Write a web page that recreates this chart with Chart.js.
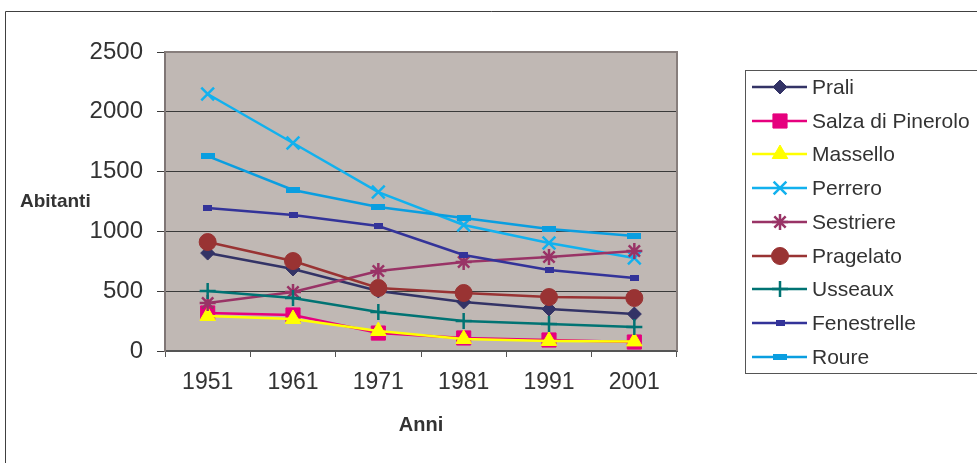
<!DOCTYPE html>
<html>
<head>
<meta charset="utf-8">
<script src="https://cdn.jsdelivr.net/npm/chart.js@4/dist/chart.umd.min.js"></script>
<style>
  html, body { margin: 0; padding: 0; background: #fff; }
  #wrap { width: 977px; height: 463px; position: relative; }
</style>
</head>
<body>
<div id="wrap"><canvas id="chart"></canvas></div>
<script>
const years = ["1951", "1961", "1971", "1981", "1991", "2001"];
const yTicks = [0, 500, 1000, 1500, 2000, 2500];

const prali       = [819, 686, 502, 410, 351, 309];
const salza       = [318, 301, 150, 109, 92, 75];
const massello    = [293, 268, 167, 100, 84, 80];
const perrero     = [2149, 1739, 1329, 1054, 903, 778];
const sestriere   = [401, 493, 669, 744, 786, 836];
const pragelato   = [911, 752, 527, 485, 451, 443];
const usseaux     = [502, 443, 326, 251, 226, 201];
const fenestrelle = [1196, 1137, 1045, 803, 677, 610];
const roure       = [1630, 1346, 1204, 1112, 1020, 962];

const FONT = "'Liberation Sans', Arial, sans-serif";
const PLOT_BG = "#c0b8b4";
const TEXT = "#333333";

// flat dash markers for Fenestrelle / Roure
function dash(w, h, color) {
  const c = document.createElement("canvas");
  c.width = w; c.height = h;
  const g = c.getContext("2d");
  g.fillStyle = color;
  g.fillRect(0, 0, w, h);
  return c;
}

function series(label, data, color, style, radius, bw) {
  return {
    label, data,
    borderColor: color,
    backgroundColor: color,
    borderWidth: 2.5,
    pointStyle: style,
    pointRadius: radius,
    pointHoverRadius: radius,
    pointBorderWidth: bw,
    pointBackgroundColor: color,
    pointBorderColor: color,
    tension: 0,
    fill: false,
  };
}

const datasets = [
  series("Prali", prali, "#333366", "rectRot", 7, 1),
  series("Salza di Pinerolo", salza, "#e6007e", "rect", 10, 1),
  series("Massello", massello, "#ffff00", "triangle", 9, 1),
  series("Perrero", perrero, "#12b1ee", "crossRot", 9, 2.5),
  series("Sestriere", sestriere, "#993366", "star", 8, 2.5),
  series("Pragelato", pragelato, "#993333", "circle", 8.5, 1),
  series("Usseaux", usseaux, "#007373", "cross", 8, 2.5),
  series("Fenestrelle", fenestrelle, "#333399", dash(9, 6, "#333399"), 5, 0),
  series("Roure", roure, "#0a9ee0", dash(14, 6, "#0a9ee0"), 7, 0),
];
// later series on top, like the original
datasets.forEach((d, i) => { d.order = datasets.length - i; });

function marker(ctx, d, x, y) {
  ctx.fillStyle = d.pointBackgroundColor;
  ctx.strokeStyle = d.pointBorderColor;
  ctx.lineWidth = d.pointBorderWidth;
  if (typeof d.pointStyle === "object") {
    const s = d.pointStyle;
    ctx.drawImage(s, x - s.width / 2, y - s.height / 2);
  } else if (Chart.helpers && Chart.helpers.drawPoint) {
    Chart.helpers.drawPoint(ctx, {
      pointStyle: d.pointStyle, radius: d.pointRadius,
      rotation: 0, borderWidth: d.pointBorderWidth,
    }, x, y);
  }
}

const decor = {
  id: "decor",
  beforeDraw(chart) {
    const { ctx, chartArea: a } = chart;
    ctx.save();
    ctx.fillStyle = "#fff";
    ctx.fillRect(0, 0, chart.width, chart.height);
    ctx.strokeStyle = "#404040";
    ctx.lineWidth = 1;
    ctx.beginPath();
    ctx.moveTo(5.5, chart.height);
    ctx.lineTo(5.5, 11.5);
    ctx.lineTo(chart.width, 11.5);
    ctx.stroke();
    ctx.fillStyle = PLOT_BG;
    ctx.fillRect(a.left, a.top, a.right - a.left, a.bottom - a.top);
    ctx.restore();
  },
  beforeDatasetsDraw(chart) {
    const { ctx, chartArea: a } = chart;
    ctx.save();
    ctx.strokeStyle = "#877e7c";
    ctx.lineWidth = 2;
    ctx.beginPath();
    ctx.moveTo(a.left, a.top);
    ctx.lineTo(a.right, a.top);
    ctx.lineTo(a.right, a.bottom);
    ctx.stroke();
    ctx.restore();
  },
  afterDraw(chart) {
    const { ctx, chartArea: a } = chart;
    ctx.save();
    ctx.fillStyle = TEXT;
    ctx.font = "bold 19px " + FONT;
    ctx.textBaseline = "middle";
    ctx.textAlign = "left";
    ctx.fillText("Abitanti", 20, (a.top + a.bottom) / 2);
    ctx.font = "bold 20px " + FONT;
    ctx.textAlign = "center";
    ctx.fillText("Anni", (a.left + a.right) / 2, 425);

    // legend box
    ctx.strokeStyle = "#555555";
    ctx.lineWidth = 1;
    ctx.strokeRect(745.5, 70.5, 260, 303);
    ctx.font = "21px " + FONT;
    ctx.textAlign = "left";
    datasets.forEach((d, i) => {
      const y = Math.round(87 + i * 33.7);
      ctx.strokeStyle = d.borderColor;
      ctx.lineWidth = 2.5;
      ctx.beginPath();
      ctx.moveTo(752, y);
      ctx.lineTo(807, y);
      ctx.stroke();
      marker(ctx, d, 780, y);
      ctx.fillStyle = TEXT;
      ctx.fillText(d.label, 812, y + 1);
    });
    ctx.restore();
  },
};

new Chart(document.getElementById("chart"), {
  type: "line",
  data: { labels: years, datasets },
  plugins: [decor],
  options: {
    responsive: true,
    maintainAspectRatio: false,
    animation: false,
    layout: { padding: { left: 0, top: 52, right: 300, bottom: 0 } },
    plugins: {
      legend: { display: false },
      tooltip: { enabled: false },
    },
    scales: {
      x: {
        offset: true,
        afterFit: s => { s.height = 112; },
        grid: {
          offset: true,
          drawOnChartArea: false,
          tickLength: 6,
          color: "#555555",
        },
        border: { color: "#555555", width: 2 },
        ticks: { color: TEXT, font: { family: FONT, size: 23 }, padding: 12, maxRotation: 0 },
      },
      y: {
        min: 0,
        max: 2500,
        afterFit: s => { s.width = 165; },
        afterBuildTicks: s => { s.ticks = yTicks.map(v => ({ value: v })); },
        grid: { color: "#3a3a3a", lineWidth: 1, tickLength: 8 },
        border: { color: "#7f7675", width: 2 },
        ticks: {
          color: TEXT,
          font: { family: FONT, size: 24 },
          padding: 14,
          callback: v => String(v),
        },
      },
    },
  },
});
</script>
</body>
</html>
